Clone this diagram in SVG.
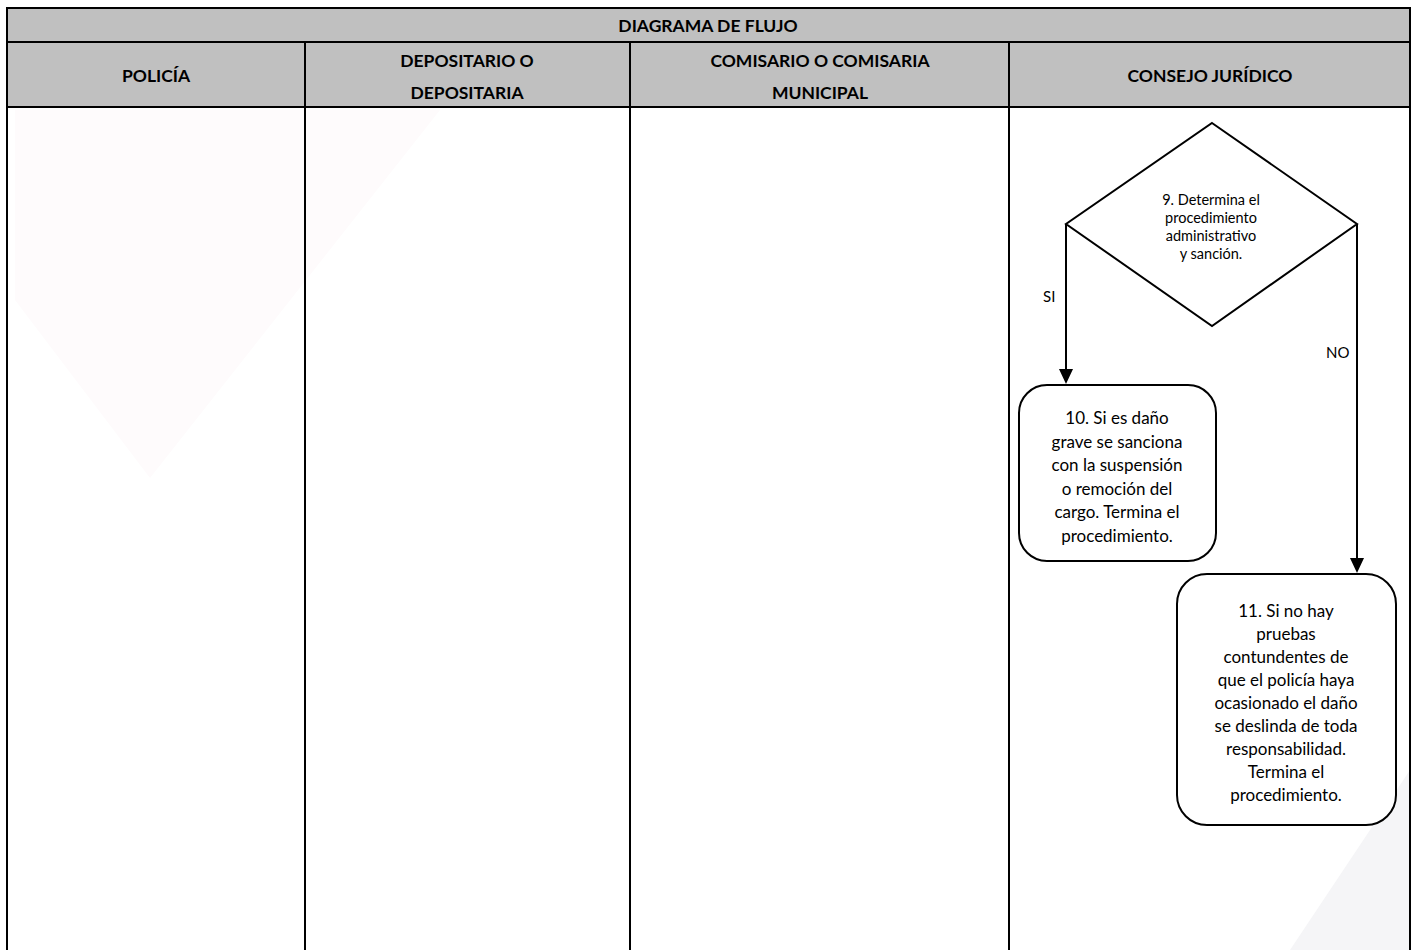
<svg xmlns="http://www.w3.org/2000/svg" width="1413" height="950" viewBox="0 0 1413 950">
<style>
.hdr{fill:#c0c0c0;stroke:none}
.grid{stroke:#000;stroke-width:2;fill:none}
.ht{font-family:Lato,"Liberation Sans",sans-serif;font-weight:bold;font-size:17.5px;fill:#000;text-anchor:middle}
.shape{fill:#fff;stroke:#000;stroke-width:2}
.t{font-family:Lato,"Liberation Sans",sans-serif;font-size:17px;fill:#000;text-anchor:middle}
.ts{font-family:Lato,"Liberation Sans",sans-serif;font-size:14.5px;fill:#000;text-anchor:middle}
.lbl{font-family:Lato,"Liberation Sans",sans-serif;font-size:15px;fill:#000}
.edge{stroke:#000;stroke-width:2;fill:none}
</style>
<rect width="1413" height="950" fill="#fff"/>
<g id="watermark">
<polygon points="15,110 440,110 150,478 15,300" fill="#fefbfc"/>
<polygon points="1290,950 1410,770 1410,950" fill="#f5f5f7"/>
</g>
<g id="table">
<rect class="hdr" x="7" y="8" width="1403" height="99"/>
<rect class="grid" x="7" y="8" width="1403" height="960"/>
<line class="grid" x1="7" y1="42" x2="1410" y2="42"/>
<line class="grid" x1="7" y1="107" x2="1410" y2="107"/>
<line class="grid" x1="305" y1="42" x2="305" y2="950"/>
<line class="grid" x1="630" y1="42" x2="630" y2="950"/>
<line class="grid" x1="1009" y1="42" x2="1009" y2="950"/>
<text class="ht" x="708" y="32">DIAGRAMA DE FLUJO</text>
<text class="ht" x="156" y="82">POLICÍA</text>
<text class="ht" x="467" y="67">DEPOSITARIO O</text>
<text class="ht" x="467" y="99">DEPOSITARIA</text>
<text class="ht" x="820" y="67">COMISARIO O COMISARIA</text>
<text class="ht" x="820" y="99">MUNICIPAL</text>
<text class="ht" x="1210" y="82">CONSEJO JURÍDICO</text>
</g>
<g id="node9">
<polygon class="shape" points="1212,123 1357,224 1212,326 1066,224"/>
<text class="ts" x="1211" y="205">9. Determina el</text>
<text class="ts" x="1211" y="223">procedimiento</text>
<text class="ts" x="1211" y="241">administrativo</text>
<text class="ts" x="1211" y="259">y sanción.</text>
</g>
<g id="node10">
<rect class="shape" x="1019" y="385" width="197" height="176" rx="28" ry="28"/>
<text class="t" x="1117" y="424">10. Si es daño</text>
<text class="t" x="1117" y="448">grave se sanciona</text>
<text class="t" x="1117" y="471">con la suspensión</text>
<text class="t" x="1117" y="495">o remoción del</text>
<text class="t" x="1117" y="518">cargo. Termina el</text>
<text class="t" x="1117" y="542">procedimiento.</text>
</g>
<g id="node11">
<rect class="shape" x="1177" y="574" width="219" height="251" rx="30" ry="30"/>
<text class="t" x="1286" y="617">11. Si no hay</text>
<text class="t" x="1286" y="640">pruebas</text>
<text class="t" x="1286" y="663">contundentes de</text>
<text class="t" x="1286" y="686">que el policía haya</text>
<text class="t" x="1286" y="709">ocasionado el daño</text>
<text class="t" x="1286" y="732">se deslinda de toda</text>
<text class="t" x="1286" y="755">responsabilidad.</text>
<text class="t" x="1286" y="778">Termina el</text>
<text class="t" x="1286" y="801">procedimiento.</text>
</g>
<g id="connectors">
<path class="edge" d="M1066,224 L1066,369"/>
<polygon points="1059,369 1073,369 1066,384" fill="#000"/>
<path class="edge" d="M1357,224 L1357,558"/>
<polygon points="1350,558 1364,558 1357,573" fill="#000"/>
<text class="lbl" x="1043" y="302">SI</text>
<text class="lbl" x="1326" y="358">NO</text>
</g>
</svg>
